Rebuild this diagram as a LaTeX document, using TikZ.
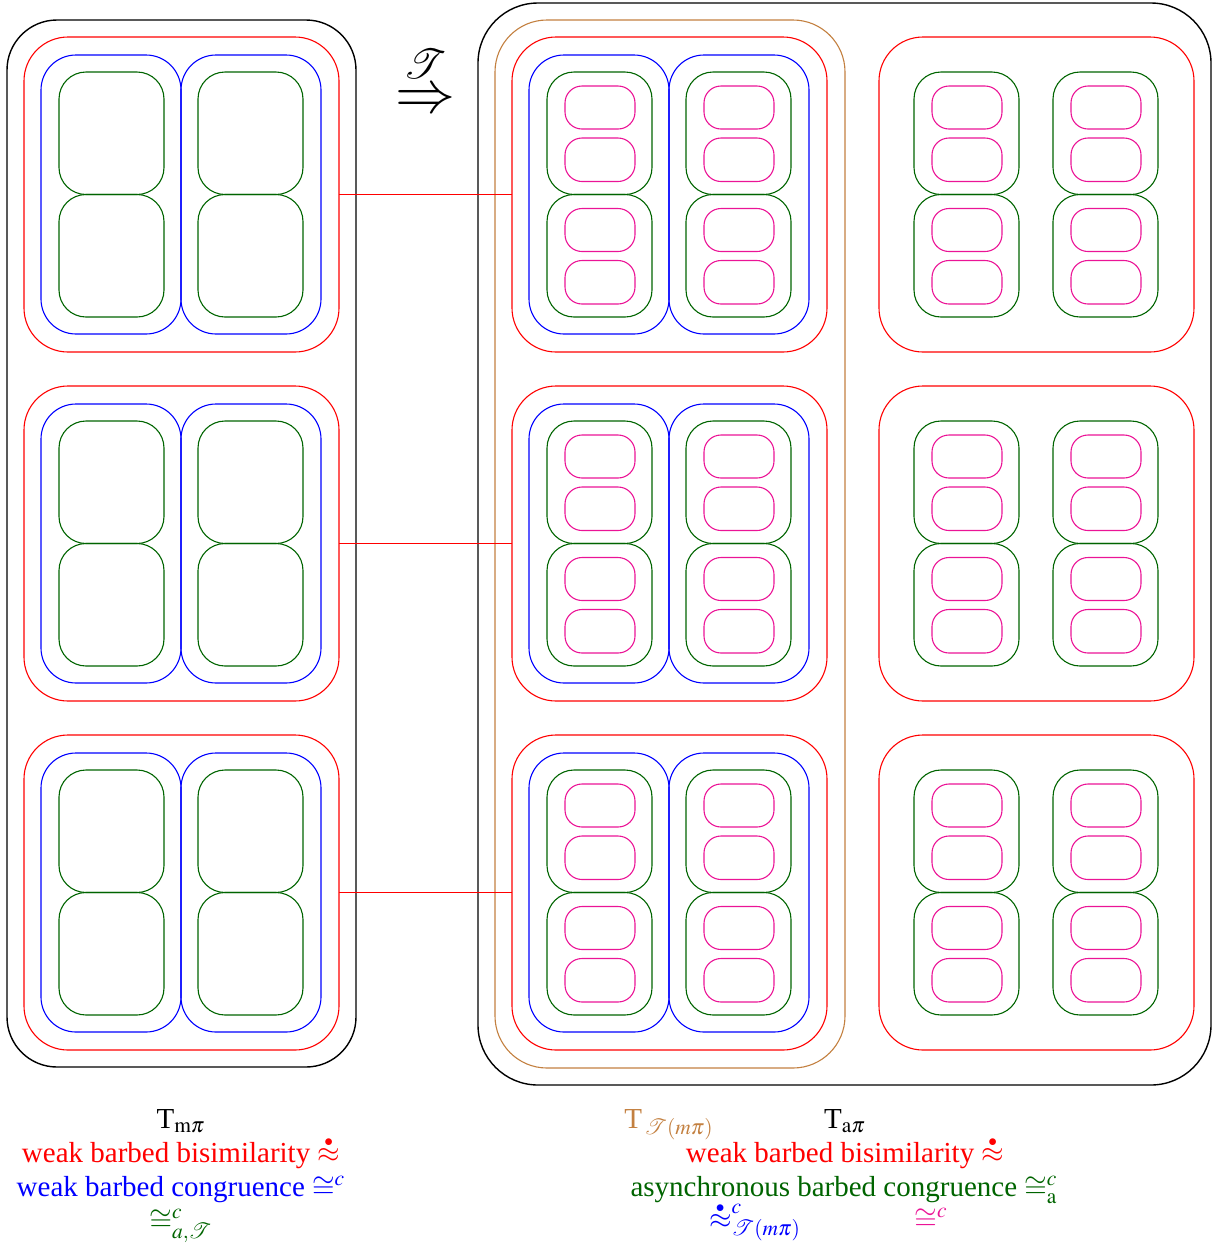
\documentclass[tikz,border=0pt]{standalone}
\usepackage{mathptmx}
\usepackage{mathrsfs}
\usepackage{fontspec}
\setmainfont{Liberation Serif}
\definecolor{pinkred}{RGB}{235,20,150}
\definecolor{darkgreen}{RGB}{0,100,0}
\definecolor{tbrown}{RGB}{195,128,64}
\newcommand{\wbis}{\mathrel{\vbox{\offinterlineskip\halign{\hfil##\hfil\cr
	$\scriptscriptstyle\bullet$\cr\noalign{\kern0.8pt}$\approx$\cr}}}}

\begin{document}
\begin{tikzpicture}[x=0.5pt,y=-0.5pt]
	\tikzset{
		blackbox/.style={draw=black,line width=0.7pt},
		brownbox/.style={draw=tbrown,line width=0.55pt,rounded corners=26pt},
		redbox/.style={draw=red,line width=0.55pt,rounded corners=22pt},
		bluebox/.style={draw=blue,line width=0.55pt,rounded corners=17.5pt},
		greenbox/.style={draw=darkgreen,line width=0.55pt,rounded corners=13.5pt},
		pinkbox/.style={draw=pinkred,line width=0.55pt,rounded corners=8.5pt},
		captext/.style={font=\fontsize{14.5}{17}\selectfont,anchor=base,inner sep=0pt}
	}
	\useasboundingbox (0,0) rectangle (1212,1249);

	\pgfmathsetmacro{\rowstep}{349}
	\pgfmathsetmacro{\midx}{488}
	\pgfmathsetmacro{\rightx}{855}

	\draw[blackbox,rounded corners=25pt] (7,20) rectangle (356,1067);
	\draw[blackbox,rounded corners=30pt] (478,3) rectangle (1211,1085);
	\draw[brownbox] (495,20) rectangle (845,1068);

	\foreach \r in {0,1,2}{
		\pgfmathsetmacro{\dy}{\r*\rowstep}
		% red boxes of the three columns
		\draw[redbox] (24,37+\dy) rectangle (339,352+\dy);
		\draw[redbox] (24+\midx,37+\dy) rectangle (339+\midx,352+\dy);
		\draw[redbox] (24+\rightx,37+\dy) rectangle (339+\rightx,352+\dy);
		% blue boxes
		\foreach \bx in {0,140}{
			\draw[bluebox] (41+\bx,55+\dy) rectangle (181+\bx,334+\dy);
			\draw[bluebox] (41+\bx+\midx,55+\dy) rectangle (181+\bx+\midx,334+\dy);
		}
		% green cells, pink inside in the a-pi columns
		\foreach \gx in {0,139}{
			\foreach \gy in {0,122.5}{
				\draw[greenbox] (59+\gx,72+\dy+\gy) rectangle (164+\gx,194.5+\dy+\gy);
				\foreach \cx in {\midx,\rightx}{
					\draw[greenbox] (59+\gx+\cx,72+\dy+\gy) rectangle (164+\gx+\cx,194.5+\dy+\gy);
					\draw[pinkbox] (77+\gx+\cx,86+\dy+\gy) rectangle (147+\gx+\cx,129+\dy+\gy);
					\draw[pinkbox] (77+\gx+\cx,138+\dy+\gy) rectangle (147+\gx+\cx,181.5+\dy+\gy);
				}
			}
		}
		\coordinate (L\r) at (339,194.5+\dy);
		\coordinate (M\r) at (512,194.5+\dy);
		\draw[red,line width=0.55pt] (L\r)--(M\r);
	}

	\node[font=\fontsize{30}{36}\selectfont] (transl) at (425,78) {$\stackrel{\mathscr{T}}{\Rightarrow}$};

	\node[captext] (tm) at (181,1128) {T$_{\mathrm{m}\pi}$};
	\node[captext,red] (wbl) at (181,1162) {weak barbed bisimilarity $\wbis$};
	\node[captext,blue] (wcl) at (181,1196) {weak barbed congruence $\cong^{c}$};
	\node[captext,darkgreen] (acl) at (181,1229) {$\cong^{c}_{a,\mathscr{T}}$};

	\node[captext,tbrown] (ttm) at (669,1128) {T$_{\,\mathscr{T}(m\pi)}$};
	\node[captext] (ta) at (845,1128) {T$_{\mathrm{a}\pi}$};
	\node[captext,red] (wbr) at (845,1162) {weak barbed bisimilarity $\wbis$};
	\node[captext,darkgreen] (acr) at (844,1196) {asynchronous barbed congruence $\cong^{c}_{\mathrm{a}}$};
	\node[captext,blue] (wbt) at (755,1228) {${\wbis}^{c}_{\mathscr{T}(m\pi)}$};
	\node[captext,pinkred] (wcr) at (931,1228) {$\cong^{c}$};

\end{tikzpicture}
\end{document}
